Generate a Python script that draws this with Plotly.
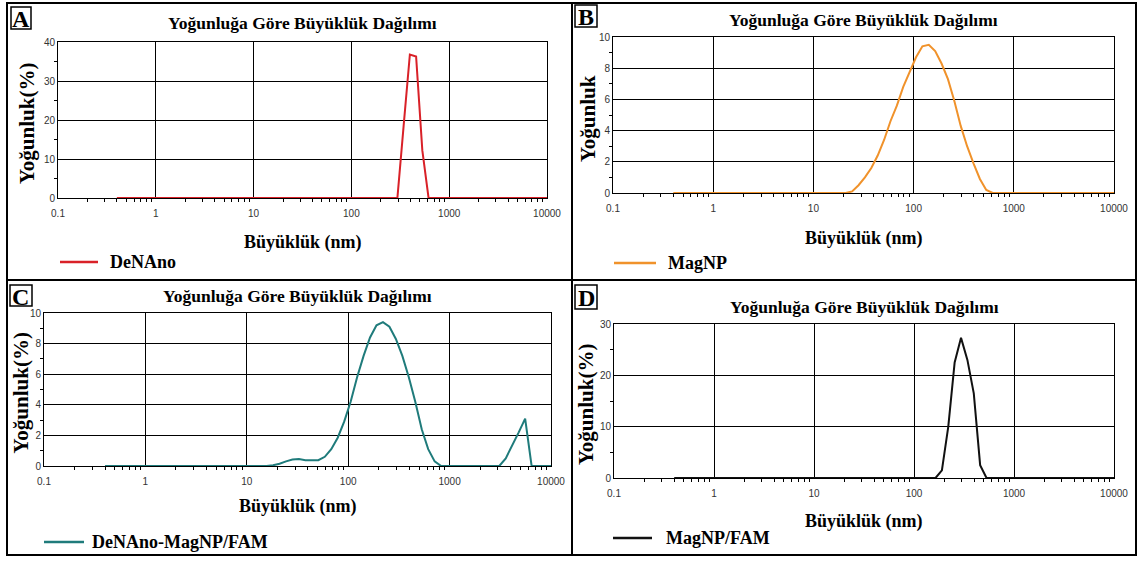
import plotly.graph_objects as go

W, H = 1140, 561

# Particle size classes (nm), logarithmically spaced
size_nm = [
    0.4, 0.4632, 0.5365, 0.6213, 0.7195, 0.8332, 0.9649, 1.117, 1.294, 1.499,
    1.736, 2.01, 2.328, 2.696, 3.122, 3.615, 4.187, 4.849, 5.615, 6.503,
    7.531, 8.721, 10.1, 11.7, 13.54, 15.69, 18.17, 21.04, 24.36, 28.21,
    32.67, 37.84, 43.82, 50.75, 58.77, 68.06, 78.82, 91.28, 105.7, 122.4,
    141.8, 164.2, 190.1, 220.2, 255.0, 295.3, 342.0, 396.1, 458.7, 531.2,
    615.1, 712.4, 825.0, 955.4, 1106, 1281, 1484, 1718, 1990, 2305,
    2669, 3091, 3580, 4145, 4801, 5560, 6439, 7456, 8635, 10000,
]

# Intensity (%) per size class
denano = [
    0, 0, 0, 0, 0, 0, 0, 0, 0, 0,
    0, 0, 0, 0, 0, 0, 0, 0, 0, 0,
    0, 0, 0, 0, 0, 0, 0, 0, 0, 0,
    0, 0, 0, 0, 0, 0, 0, 0, 0, 0,
    0, 0, 0, 0, 0, 0, 18.5, 36.8, 36.3, 12.2,
    0, 0, 0, 0, 0, 0, 0, 0, 0, 0,
    0, 0, 0, 0, 0, 0, 0, 0, 0, 0,
]

magnp = [
    0, 0, 0, 0, 0, 0, 0, 0, 0, 0,
    0, 0, 0, 0, 0, 0, 0, 0, 0, 0,
    0, 0, 0, 0, 0, 0, 0, 0, 0.1, 0.5,
    1.0, 1.6, 2.4, 3.4, 4.6, 5.6, 6.8, 7.8, 8.7, 9.4,
    9.5, 9.1, 8.3, 7.3, 5.9, 4.3, 3.0, 1.9, 0.9, 0.2,
    0, 0, 0, 0, 0, 0, 0, 0, 0, 0,
    0, 0, 0, 0, 0, 0, 0, 0, 0, 0,
]

denano_magnp_fam = [
    0, 0, 0, 0, 0, 0, 0, 0, 0, 0,
    0, 0, 0, 0, 0, 0, 0, 0, 0, 0,
    0, 0, 0, 0, 0, 0, 0.05, 0.15, 0.3, 0.42,
    0.45, 0.38, 0.38, 0.38, 0.6, 1.1, 1.85, 2.9, 4.2, 5.8,
    7.2, 8.4, 9.2, 9.4, 9.1, 8.3, 7.2, 5.8, 4.2, 2.4,
    1.1, 0.3, 0, 0, 0, 0, 0, 0, 0, 0,
    0, 0, 0.5, 1.3, 2.2, 3.1, 0, 0, 0, 0,
]

magnp_fam = [
    0, 0, 0, 0, 0, 0, 0, 0, 0, 0,
    0, 0, 0, 0, 0, 0, 0, 0, 0, 0,
    0, 0, 0, 0, 0, 0, 0, 0, 0, 0,
    0, 0, 0, 0, 0, 0, 0, 0, 0, 0,
    0, 0, 1.5, 10.0, 22.5, 27.3, 23.0, 16.5, 2.5, 0,
    0, 0, 0, 0, 0, 0, 0, 0, 0, 0,
    0, 0, 0, 0, 0, 0, 0, 0, 0, 0,
]

x_tickvals = [0.1, 1, 10, 100, 1000, 10000]
x_ticktext = ["0.1", "1", "10", "100", "1000", "10000"]
chart_title = "Yoğunluğa Göre Büyüklük Dağılımı"
x_title = "Büyüklük (nm)"

SERIF = "Liberation Serif, Times New Roman, serif"
SANS = "Liberation Sans Narrow, Liberation Sans, Arial, sans-serif"


def px(x):
    return x / W


def py(y):
    return 1 - y / H


# Panel geometry in pixels: plot box, title, axis titles, legend, letter box
panels = [
    dict(letter="A", name="DeNAno", y=denano, color="#d92128",
         ytitle="Yoğunluk(%)", ymax=40, dtick=10, minor=5,
         box=(58, 547, 42, 198), title_y=23, xt_y=243, yt_x=27,
         leg=(60, 98, 262, 108), lbox=(11, 31, 7, 29)),
    dict(letter="B", name="MagNP", y=magnp, color="#f0922b",
         ytitle="Yoğunluk", ymax=10, dtick=2, minor=1,
         box=(613, 1114, 37, 193), title_y=20, xt_y=238, yt_x=588,
         leg=(614, 656, 263, 666), lbox=(575, 597, 5, 27)),
    dict(letter="C", name="DeNAno-MagNP/FAM", y=denano_magnp_fam, color="#1f7b7b",
         ytitle="Yoğunluk(%)", ymax=10, dtick=2, minor=1,
         box=(44, 551, 313, 466), title_y=296, xt_y=506, yt_x=20,
         leg=(44, 84, 542, 90), lbox=(10, 32, 285, 306)),
    dict(letter="D", name="MagNP/FAM", y=magnp_fam, color="#111111",
         ytitle="Yoğunluk(%)", ymax=30, dtick=10, minor=5,
         box=(614, 1114, 324, 478), title_y=307, xt_y=521, yt_x=586,
         leg=(613, 652, 538, 664), lbox=(575, 597, 285, 309)),
]

x_minor = [m * 10 ** e for e in range(-1, 4) for m in range(2, 10)]

fig = go.Figure()
annotations = []
shapes = []

# Outer frame and dividers
shapes.append(dict(type="rect", xref="paper", yref="paper",
                   x0=px(7), x1=px(1136), y0=py(555), y1=py(3),
                   line=dict(color="#000", width=2)))
shapes.append(dict(type="line", xref="paper", yref="paper",
                   x0=px(572), x1=px(572), y0=py(555), y1=py(3),
                   line=dict(color="#000", width=2)))
shapes.append(dict(type="line", xref="paper", yref="paper",
                   x0=px(7), x1=px(1136), y0=py(280), y1=py(280),
                   line=dict(color="#000", width=2)))

for i, p in enumerate(panels, start=1):
    xa = "x" if i == 1 else f"x{i}"
    ya = "y" if i == 1 else f"y{i}"
    x0, x1, y0, y1 = p["box"]
    fig.add_trace(go.Scatter(
        x=size_nm, y=p["y"], mode="lines", name=p["name"],
        line=dict(color=p["color"], width=2),
        xaxis=xa, yaxis=ya, showlegend=False,
    ))
    axis_common = dict(
        showline=True, linecolor="#000", linewidth=1, mirror=True,
        showgrid=True, gridcolor="#000", gridwidth=1, zeroline=False,
        ticks="", layer="below traces", automargin=False,
        tickfont=dict(family=SANS, size=10, color="#333"),
    )
    fig.update_layout(**{
        ("xaxis" if i == 1 else f"xaxis{i}"): dict(
            axis_common, type="log", range=[-1, 4],
            domain=[px(x0), px(x1)], anchor=ya,
            tickmode="array", tickvals=x_tickvals, ticktext=x_ticktext,
            ticklabelstandoff=6,
            minor=dict(tickvals=x_minor, ticks="outside", ticklen=3,
                       tickcolor="#000", showgrid=False),
        ),
        ("yaxis" if i == 1 else f"yaxis{i}"): dict(
            axis_common, range=[0, p["ymax"]], tick0=0, dtick=p["dtick"],
            domain=[py(y1), py(y0)], anchor=xa,
            minor=dict(dtick=p["minor"], ticks="outside", ticklen=3,
                       tickcolor="#000", showgrid=False),
        ),
    })
    cx = (x0 + x1) / 2
    serif_b = dict(family=SERIF, color="#000", weight="bold")
    annotations += [
        dict(text=chart_title, x=px(cx), y=py(p["title_y"]),
             font=dict(serif_b, size=17.5)),
        dict(text=x_title, x=px(cx), y=py(p["xt_y"]),
             font=dict(serif_b, size=18)),
        dict(text=p["ytitle"], x=px(p["yt_x"]), y=py((y0 + y1) / 2 + 4),
             textangle=-90, font=dict(serif_b, size=21)),
        dict(text=p["name"], x=px(p["leg"][3]), y=py(p["leg"][2]),
             xanchor="left", font=dict(serif_b, size=18)),
    ]
    lx0, lx1, ly0, ly1 = p["lbox"]
    annotations.append(dict(text=p["letter"], x=px((lx0 + lx1) / 2),
                            y=py((ly0 + ly1) / 2 + 1),
                            font=dict(serif_b, size=24)))
    shapes.append(dict(type="rect", xref="paper", yref="paper",
                       x0=px(lx0), x1=px(lx1), y0=py(ly1), y1=py(ly0),
                       line=dict(color="#000", width=1.5)))
    shapes.append(dict(type="line", xref="paper", yref="paper",
                       x0=px(p["leg"][0]), x1=px(p["leg"][1]),
                       y0=py(p["leg"][2]), y1=py(p["leg"][2]),
                       line=dict(color=p["color"], width=2.5)))

for a in annotations:
    a.setdefault("xref", "paper")
    a.setdefault("yref", "paper")
    a.setdefault("xanchor", "center")
    a.setdefault("yanchor", "middle")
    a["showarrow"] = False

fig.update_layout(
    width=W, height=H, autosize=False,
    margin=dict(l=0, r=0, t=0, b=0, pad=0, autoexpand=False),
    paper_bgcolor="white", plot_bgcolor="white",
    annotations=annotations, shapes=shapes,
    showlegend=False,
)

fig.write_html("out.html")
